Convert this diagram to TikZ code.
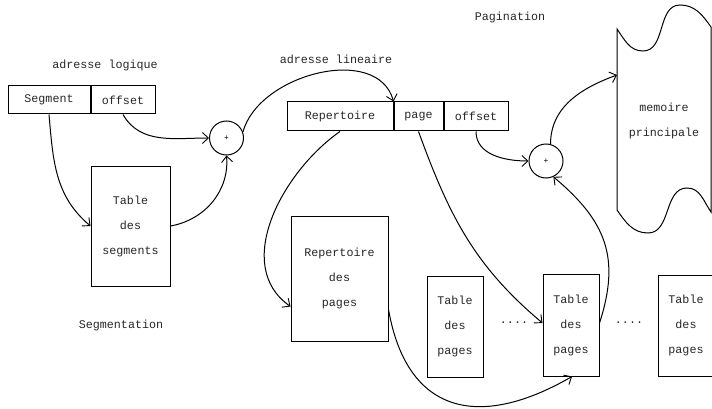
\documentclass[tikz,border=0pt]{standalone}
\usepackage{fontspec}
\newfontfamily\courf{Liberation Mono}
\usetikzlibrary{arrows.meta,calc}
\begin{document}
\begin{tikzpicture}[x=1pt,y=-1pt,
  txt/.style={font=\courf\fontsize{11.7}{25}\selectfont, text=black!85, inner sep=0pt},
  box/.style={txt, draw, line width=1pt, minimum height=28pt, align=center},
  tall/.style={txt, draw, line width=1pt, align=center},
  adder/.style={circle, draw, line width=1pt, minimum size=34pt, inner sep=0pt, font=\courf\fontsize{8}{9}\selectfont},
  arr/.style={line width=1pt, -{Straight Barb[length=6pt,width=11pt,line width=0.9pt]}}]
\useasboundingbox (0,0) rectangle (712,409);

% labels
\node[txt] (lpag) at (510,17) {Pagination};
\node[txt] (llog) at (105,65) {adresse logique};
\node[txt] (llin) at (336,59) {adresse lineaire};
\node[txt] (lseg) at (121,325) {Segmentation};

% segmentation part
\node[box, minimum width=82pt] (seg) at (49,100) {Segment};
\node[box, minimum width=64pt] (off1) at (123,100) {offset};
\node[tall, minimum width=79pt, minimum height=120pt] (tabseg) at (130.5,226) {Table\\des\\segments};
\node[adder] (plus1) at (226.5,138) {+};

% linear address
\node[box, minimum width=106pt, minimum height=29pt] (rep) at (340,116.5) {Repertoire};
\node[box, minimum width=49pt, minimum height=29pt] (page) at (418.5,116.5) {page};
\node[box, minimum width=64pt, minimum height=29pt] (off2) at (476,116.5) {offset};
\node[adder] (plus2) at (546,161) {+};

% tables
\node[tall, minimum width=97pt, minimum height=125pt] (reppages) at (339.5,278.5) {Repertoire\\des\\pages};
\node[tall, minimum width=56pt, minimum height=101pt] (tp1) at (455,326.5) {Table\\des\\pages};
\node[tall, minimum width=56pt, minimum height=102pt] (tp2) at (571,325) {Table\\des\\pages};
\node[tall, minimum width=56pt, minimum height=101pt] (tp3) at (686,325.5) {Table\\des\\pages};
\node[txt] (dots1) at (514,323) {....};
\node[txt] (dots2) at (629,323) {....};

% main memory
\draw[line width=1pt] (617,29) to[out=-55,in=180] (643,51) to[out=0,in=180] (680,5)
  to[out=0,in=125] (711,27) -- (711,212)
  to[out=125,in=0] (687,188) to[out=180,in=0] (648,233) to[out=180,in=-55] (617,210) -- cycle;
\node[txt, align=center] (mem) at (664,121) {memoire\\principale};
\coordinate (memin) at (617,75);

% connectors
\draw[arr] (seg.south) to[out=-85,in=140] (tabseg.west);
\draw[arr] (off1.south) to[out=-60,in=180] (plus1.west);
\draw[arr] (tabseg.east) to[out=10,in=-85] (plus1.south);
\draw[arr] (plus1.20) to[out=75,in=105] (rep.north east);
\draw[arr] (rep.south) to[out=-145,in=145] ([yshift=-28pt]reppages.west);
\draw[arr] (page.south) to[out=-70,in=140] ([yshift=2pt]tp2.west);
\draw[arr] (off2.south) to[out=-90,in=180] (plus2.west);
\draw[arr] ([yshift=2pt]tp2.east) to[out=72,in=-40,looseness=1.15] (plus2.-65);
\draw[arr] (plus2.75) to[out=90,in=200] (memin);
\draw[arr] ([yshift=-31pt]reppages.east) to[out=-80,in=-150,looseness=1.4] ([xshift=1pt]tp2.south);
\end{tikzpicture}
\end{document}
